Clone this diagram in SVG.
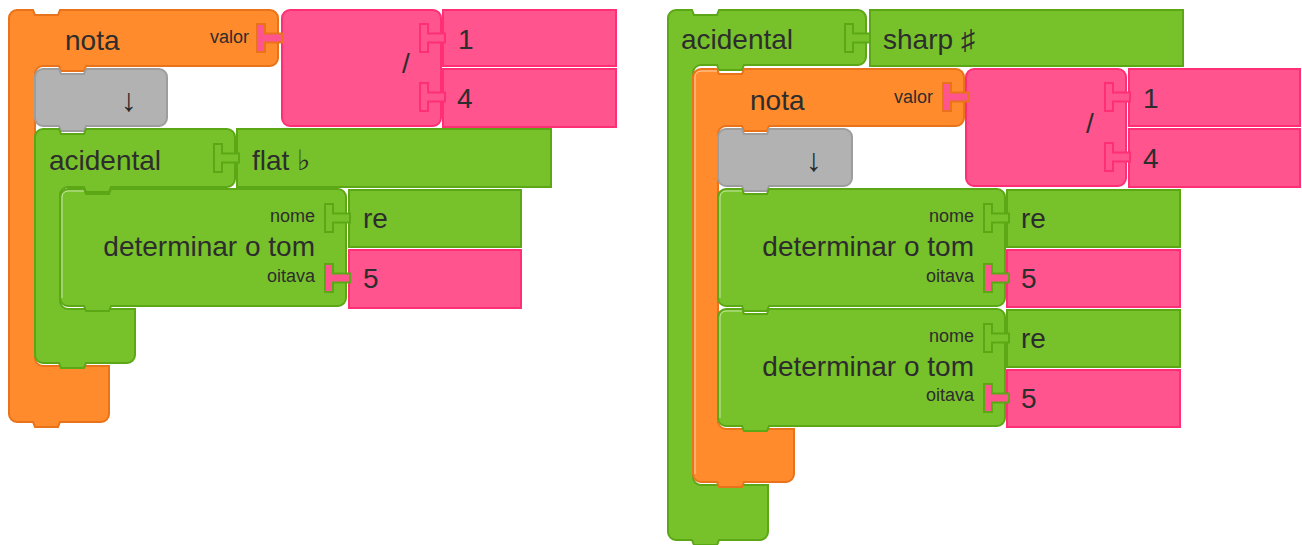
<svg xmlns="http://www.w3.org/2000/svg" xmlns:xlink="http://www.w3.org/1999/xlink" width="1302" height="545" viewBox="0 0 1302 545">
  <style>
    .orange { fill: #FF8B2C; stroke: #E8731B; stroke-width: 2; }
    .green  { fill: #77C22A; stroke: #5CA716; stroke-width: 2; }
    .pink   { fill: #FF548E; stroke: #FF2F75; stroke-width: 2; }
    .gray   { fill: #B2B2B2; stroke: #9D9D9D; stroke-width: 2; }
    .hl     { fill: none; stroke: #ffffff; stroke-opacity: 0.6; stroke-width: 1; }
    /* value ports: fill = plugged block, outline = host block */
    .p-on-o { fill: #FF548E; stroke: #E8731B; stroke-width: 2; }
    .p-on-p { fill: #FF548E; stroke: #FF2F75; stroke-width: 2; }
    .g-on-g { fill: #77C22A; stroke: #5CA716; stroke-width: 2; }
    .p-on-g { fill: #FF548E; stroke: #5CA716; stroke-width: 2; }
    text { font-family: "Liberation Sans", Arial, "DejaVu Sans", sans-serif; fill: #2d2d2d; }
    .t { font-size: 28px; }
    .s { font-size: 18px; }
    .r { text-anchor: end; }
    .arw { font-size: 32px; text-anchor: middle; fill: #2a2a2a; }
  </style>
  <defs>
    <!-- T-shaped value port, origin at the host's right edge, input centre -->
    <path id="port" d="M-21,-14 h8 v9.5 h17 v9 h-17 v9.5 h-8 z"/>
  </defs>

  <!-- ===== left stack ===== -->
  <g id="nota-left">
    <path class="orange" d="M9,18 A8,8 0 0 1 17,10 H33 l2,5 h23 l2,-5 H270 A8,8 0 0 1 278,18 V58 A8,8 0 0 1 270,66 H86 l-2,5 h-23 l-2,-5 H43 A8,8 0 0 0 35,74 V358 A8,8 0 0 0 43,366 H109 V414 A8,8 0 0 1 101,422 H60 l-2,5 h-23 l-2,-5 H17 A8,8 0 0 1 9,414 Z"/>
    <text class="t" x="65" y="50">nota</text>
    <text class="s r" x="249" y="43">valor</text>
  </g>
  <g id="arrow-left">
    <path class="gray" d="M35,77 A8,8 0 0 1 43,69 H59 l2,5 h23 l2,-5 H159 A8,8 0 0 1 167,77 V118 A8,8 0 0 1 159,126 H86 l-2,5 h-23 l-2,-5 H43 A8,8 0 0 1 35,118 Z"/>
    <text class="arw" x="129" y="111">↓</text>
  </g>
  <g id="acidental-left">
    <path class="green" d="M35,137 A8,8 0 0 1 43,129 H59 l2,5 h23 l2,-5 H227 A8,8 0 0 1 235,137 V179 A8,8 0 0 1 227,187 H111 l-2,5 h-23 l-2,-5 H68 A8,8 0 0 0 60,195 V301 A8,8 0 0 0 68,309 H135 V355 A8,8 0 0 1 127,363 H86 l-2,5 h-23 l-2,-5 H43 A8,8 0 0 1 35,355 Z"/>
    <text class="t" x="49" y="170">acidental</text>
  </g>
  <g id="tom-left">
    <path class="green" d="M60,197 A8,8 0 0 1 68,189 H84 l2,5 h23 l2,-5 H338 A8,8 0 0 1 346,197 V298 A8,8 0 0 1 338,306 H111 l-2,5 h-23 l-2,-5 H68 A8,8 0 0 1 60,298 Z"/>
    <path class="hl" d="M62,298 V197 A6,6 0 0 1 68,191 H84"/>
    <text class="s r" x="315" y="222">nome</text>
    <text class="t r" x="315" y="256">determinar o tom</text>
    <text class="s r" x="315" y="282">oitava</text>
  </g>
  <g id="div-left">
    <rect class="pink" x="282" y="10" width="159" height="116" rx="8"/>
    <text class="t" x="402" y="73">/</text>
  </g>
  <g id="num1-left">
    <rect class="pink" x="443" y="10" width="173" height="56"/>
    <text class="t" x="458" y="49">1</text>
  </g>
  <g id="num4-left">
    <rect class="pink" x="443" y="69" width="173" height="58"/>
    <text class="t" x="457" y="108">4</text>
  </g>
  <g id="flat-left">
    <rect class="green" x="237" y="129" width="314" height="58"/>
    <text class="t" x="252" y="170">flat ♭</text>
  </g>
  <g id="re-left">
    <rect class="green" x="349" y="190" width="172" height="57"/>
    <text class="t" x="363" y="228">re</text>
  </g>
  <g id="oct-left">
    <rect class="pink" x="349" y="250" width="172" height="58"/>
    <text class="t" x="363" y="288">5</text>
  </g>

  <!-- ===== right stack ===== -->
  <g id="acidental-right">
    <path class="green" d="M668,18 A8,8 0 0 1 676,10 H692 l2,5 h23 l2,-5 H858 A8,8 0 0 1 866,18 V57 A8,8 0 0 1 858,65 H744 l-2,5 h-23 l-2,-5 H701 A8,8 0 0 0 693,73 V477 A8,8 0 0 0 701,485 H768 V532 A8,8 0 0 1 760,540 H719 l-2,5 h-23 l-2,-5 H676 A8,8 0 0 1 668,532 Z"/>
    <text class="t" x="681" y="49">acidental</text>
  </g>
  <g id="nota-right">
    <path class="orange" d="M693,77 A8,8 0 0 1 701,69 H717 l2,5 h23 l2,-5 H956 A8,8 0 0 1 964,77 V118 A8,8 0 0 1 956,126 H769 l-2,5 h-23 l-2,-5 H726 A8,8 0 0 0 718,134 V421 A8,8 0 0 0 726,429 H794 V474 A8,8 0 0 1 786,482 H744 l-2,5 h-23 l-2,-5 H701 A8,8 0 0 1 693,474 Z"/>
    <path class="hl" d="M695,474 V77 A6,6 0 0 1 701,71 H717"/>
    <text class="t" x="750" y="110">nota</text>
    <text class="s r" x="933" y="103">valor</text>
  </g>
  <g id="arrow-right">
    <path class="gray" d="M718,137 A8,8 0 0 1 726,129 H742 l2,5 h23 l2,-5 H844 A8,8 0 0 1 852,137 V178 A8,8 0 0 1 844,186 H769 l-2,5 h-23 l-2,-5 H726 A8,8 0 0 1 718,178 Z"/>
    <text class="arw" x="814" y="171">↓</text>
  </g>
  <g id="tom1-right">
    <path class="green" d="M718,197 A8,8 0 0 1 726,189 H742 l2,5 h23 l2,-5 H997 A8,8 0 0 1 1005,197 V298 A8,8 0 0 1 997,306 H769 l-2,5 h-23 l-2,-5 H726 A8,8 0 0 1 718,298 Z"/>
    <path class="hl" d="M720,298 V197 A6,6 0 0 1 726,191 H742"/>
    <text class="s r" x="974" y="222">nome</text>
    <text class="t r" x="974" y="256">determinar o tom</text>
    <text class="s r" x="974" y="282">oitava</text>
  </g>
  <g id="tom2-right">
    <path class="green" d="M718,317 A8,8 0 0 1 726,309 H742 l2,5 h23 l2,-5 H997 A8,8 0 0 1 1005,317 V418 A8,8 0 0 1 997,426 H769 l-2,5 h-23 l-2,-5 H726 A8,8 0 0 1 718,418 Z"/>
    <path class="hl" d="M720,418 V317 A6,6 0 0 1 726,311 H742"/>
    <text class="s r" x="974" y="342">nome</text>
    <text class="t r" x="974" y="376">determinar o tom</text>
    <text class="s r" x="974" y="401">oitava</text>
  </g>
  <g id="sharp-right">
    <rect class="green" x="870" y="10" width="313" height="56"/>
    <text class="t" x="883" y="49">sharp ♯</text>
  </g>
  <g id="div-right">
    <rect class="pink" x="966" y="69" width="160" height="117" rx="8"/>
    <text class="t" x="1086" y="133">/</text>
  </g>
  <g id="num1-right">
    <rect class="pink" x="1129" y="69" width="171" height="57"/>
    <text class="t" x="1143" y="108">1</text>
  </g>
  <g id="num4-right">
    <rect class="pink" x="1129" y="129" width="171" height="58"/>
    <text class="t" x="1143" y="168">4</text>
  </g>
  <g id="re1-right">
    <rect class="green" x="1007" y="190" width="173" height="57"/>
    <text class="t" x="1021" y="228">re</text>
  </g>
  <g id="oct1-right">
    <rect class="pink" x="1007" y="250" width="173" height="57"/>
    <text class="t" x="1021" y="288">5</text>
  </g>
  <g id="re2-right">
    <rect class="green" x="1007" y="310" width="173" height="57"/>
    <text class="t" x="1021" y="348">re</text>
  </g>
  <g id="oct2-right">
    <rect class="pink" x="1007" y="370" width="173" height="57"/>
    <text class="t" x="1021" y="408">5</text>
  </g>

  <!-- value connections -->
  <g id="connectors">
    <use xlink:href="#port" x="278" y="38" class="p-on-o"/>
    <use xlink:href="#port" x="441" y="38" class="p-on-p"/>
    <use xlink:href="#port" x="441" y="97" class="p-on-p"/>
    <use xlink:href="#port" x="235" y="158" class="g-on-g"/>
    <use xlink:href="#port" x="346" y="218" class="g-on-g"/>
    <use xlink:href="#port" x="346" y="278" class="p-on-g"/>

    <use xlink:href="#port" x="866" y="38" class="g-on-g"/>
    <use xlink:href="#port" x="964" y="97" class="p-on-o"/>
    <use xlink:href="#port" x="1126" y="97" class="p-on-p"/>
    <use xlink:href="#port" x="1126" y="157" class="p-on-p"/>
    <use xlink:href="#port" x="1005" y="218" class="g-on-g"/>
    <use xlink:href="#port" x="1005" y="278" class="p-on-g"/>
    <use xlink:href="#port" x="1005" y="338" class="g-on-g"/>
    <use xlink:href="#port" x="1005" y="398" class="p-on-g"/>
  </g>
</svg>
